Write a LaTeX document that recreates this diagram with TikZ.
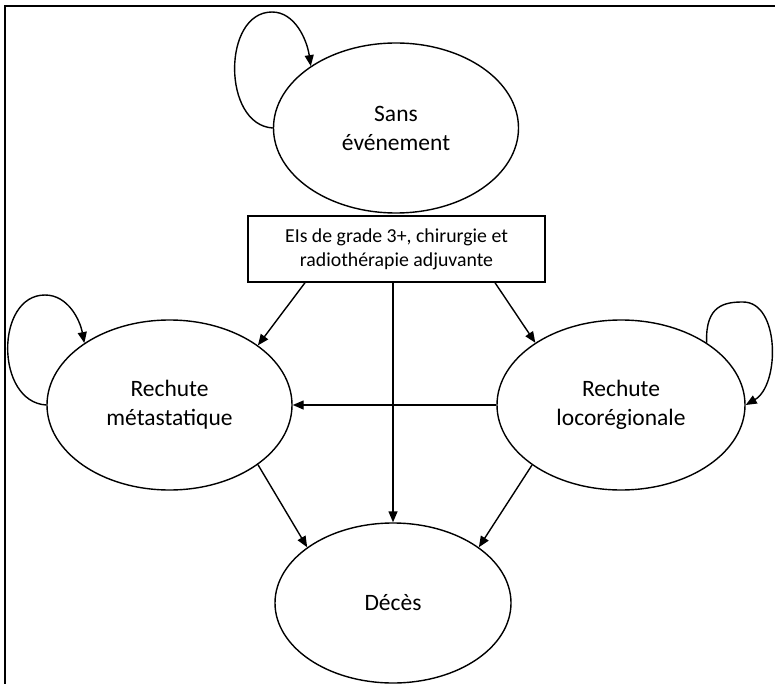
\documentclass[tikz,border=0pt]{standalone}
\usepackage{fontspec}
\setmainfont{Carlito}
\usetikzlibrary{shapes.geometric,arrows.meta,calc}
\tikzset{
  state/.style={draw, ellipse, line width=1.4pt, inner sep=0pt, align=center,
    minimum width=245pt, minimum height=170pt,
    font=\fontsize{23.5}{29}\selectfont},
  eventbox/.style={draw, rectangle, line width=1.4pt, inner sep=0pt, align=center,
    minimum width=297pt, minimum height=66pt,
    font=\fontsize{19.8}{24}\selectfont},
  conn/.style={line width=1.4pt, -{Triangle[length=11pt,width=9pt]}},
  frame/.style={line width=2pt}
}
\begin{document}
\begin{tikzpicture}[x=1pt,y=-1pt]
\useasboundingbox (0,0) rectangle (775,684);
% frame
\coordinate (fbl) at (5,684);
\coordinate (ftl) at (5,6);
\coordinate (ftr) at (775,6);
\draw[frame] (fbl) -- (ftl) -- (ftr);
% nodes
\node[state] (sans) at (396,128) {Sans\\événement};
\node[eventbox] (box) at (396.5,249) {EIs de grade 3+, chirurgie et\\radiothérapie adjuvante};
\node[state] (metas) at (169.5,405) {Rechute\\métastatique};
\node[state, minimum width=248pt] (rloc) at (621,405) {Rechute\\locorégionale};
\node[state, minimum width=236pt, minimum height=160pt] (deces) at (393,603) {Décès};
% connectors
\draw[conn] ($(box.south)+(-91.5,0)$) -- (metas.34);
\draw[conn] ($(box.south)+(98.5,0)$) -- (rloc.144);
\draw[conn] (deces.north |- box.south) -- (deces.north);
\draw[conn] (rloc.west) -- (metas.east);
\draw[conn] (metas.-34) -- (deces.147);
\draw[conn] (rloc.214) -- (deces.33);
% self loops
\coordinate (sanstop) at (272,12);
\draw[conn] (sans.west) .. controls (222,125) and (222,12) .. (sanstop)
  .. controls (295,12) and (307,40) .. (sans.144);
\coordinate (metastop) at (45,295);
\draw[conn] (metas.west) .. controls (-5,402) and (-5,295) .. (metastop)
  .. controls (68,295) and (80,320) .. (metas.144);
\coordinate (rloctop) at (743,302);
\draw[conn] (rloc.36) .. controls (705,305) and (725,302) .. (rloctop)
  .. controls (780,302) and (780,385) .. (rloc.east);
\end{tikzpicture}
\end{document}
